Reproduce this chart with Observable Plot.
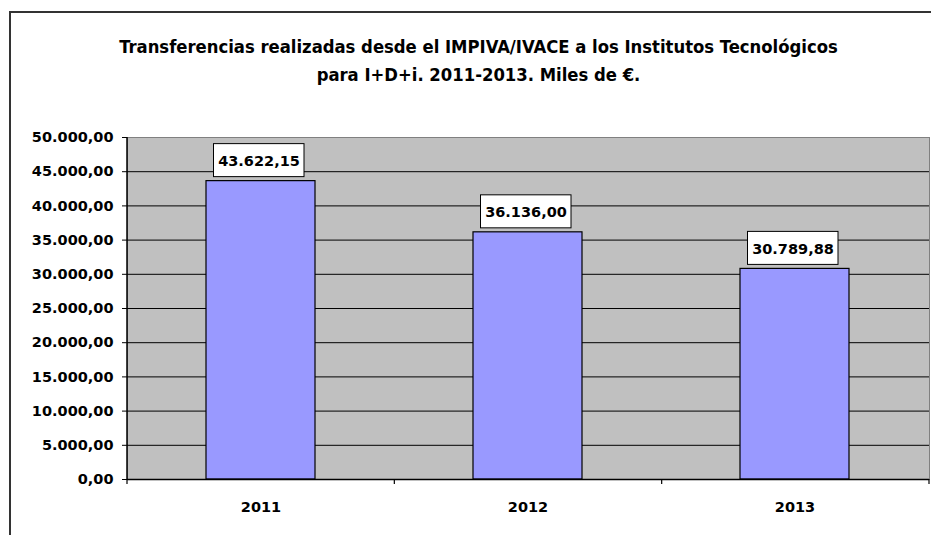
<!DOCTYPE html>
<html>
<head>
<meta charset="utf-8">
<script src="https://cdn.jsdelivr.net/npm/d3@7"></script>
<script src="https://cdn.jsdelivr.net/npm/@observablehq/plot@0.6"></script>
<style>
  body { margin: 0; background: #fff; }
  #wrap { position: relative; width: 931px; height: 535px; overflow: hidden; }
  #frame { position: absolute; left: 9px; top: 11px; width: 940px; height: 540px;
           border-left: 2px solid #333; border-top: 2px solid #333; }
  #title { position: absolute; left: 0; top: 33px; width: 957px; text-align: center;
           font-family: "DejaVu Sans Condensed", "DejaVu Sans", sans-serif; font-weight: bold;
           font-size: 18.3px; line-height: 28px; color: #000; }
  #chart { position: absolute; left: 0; top: 130px; }
</style>
</head>
<body>
<div id="wrap">
  <div id="frame"></div>
  <div id="title">Transferencias realizadas desde el IMPIVA/IVACE a los Institutos Tecnológicos<br>para I+D+i. 2011-2013. Miles de €.</div>
  <div id="chart"></div>
</div>
<script>
const years = ["2011", "2012", "2013"];
const values = [43622.15, 36136.00, 30789.88];
const yTicks = [0, 5000, 10000, 15000, 20000, 25000, 30000, 35000, 40000, 45000, 50000];

const data = years.map((y, i) => ({year: y, value: values[i]}));
const loc = d3.formatLocale({decimal: ",", thousands: ".", grouping: [3], currency: ["", "€"]});
const fmt = loc.format(",.2f");
const font = "DejaVu Sans, sans-serif";

const plot = Plot.plot({
  width: 931,
  height: 405,
  marginLeft: 127,
  marginRight: 2,
  marginTop: 7,
  marginBottom: 56,
  style: {fontFamily: font, fontSize: "14.5px", fontWeight: "bold", color: "#000", background: "transparent"},
  x: {type: "band", domain: years, paddingInner: 0.59, paddingOuter: 0.295, label: null, tickSize: 0, tickPadding: 22},
  y: {domain: [0, 50000], ticks: yTicks, tickFormat: fmt, label: null, tickSize: 5, tickPadding: 9},
  marks: [
    Plot.frame({fill: "#C0C0C0", stroke: "#808080"}),
    Plot.gridY(yTicks.filter(t => t > 0 && t < 50000), {stroke: "#000", strokeOpacity: 1, strokeWidth: 1}),
    Plot.barY(data, {x: "year", y: "value", fill: "#9999FF", stroke: "#000", strokeWidth: 1.2}),
    Plot.barY(data, {x: "year", y1: "value", y2: "value", fill: "#fff", stroke: "#000", strokeWidth: 1,
                     insetTop: -37, insetBottom: 4, insetLeft: 7.5, insetRight: 11}),
    Plot.text(data, {x: "year", y: "value", text: d => fmt(d.value), dy: -20, dx: -2,
                     fontSize: 14.5, fontWeight: "bold", fill: "#000"}),
    Plot.ruleY([0], {stroke: "#000", strokeWidth: 1.5}),
    Plot.axisY({ticks: yTicks, tickFormat: fmt, tickSize: 5, tickPadding: 9, label: null}),
    Plot.axisX({tickSize: 0, tickPadding: 22, label: null})
  ]
});

// Left axis line and category boundary ticks drawn from the plot's own scales
const xs = plot.scale("x");
const ys = plot.scale("y");
const svg = d3.select(plot);
const x0 = xs.range[0], x1 = xs.range[1];
const yTop = ys.apply(50000), yBot = ys.apply(0);
svg.append("line").attr("x1", x0).attr("x2", x0).attr("y1", yTop).attr("y2", yBot)
   .attr("stroke", "#000").attr("stroke-width", 1.5);
const edges = [x0];
years.forEach((y, i) => edges.push(x0 + (i + 1) * (x1 - x0) / years.length));
edges.forEach(e => svg.append("line").attr("x1", e).attr("x2", e).attr("y1", yBot).attr("y2", yBot + 5)
   .attr("stroke", "#000").attr("stroke-width", 1.2));

document.getElementById("chart").append(plot);
</script>
</body>
</html>
